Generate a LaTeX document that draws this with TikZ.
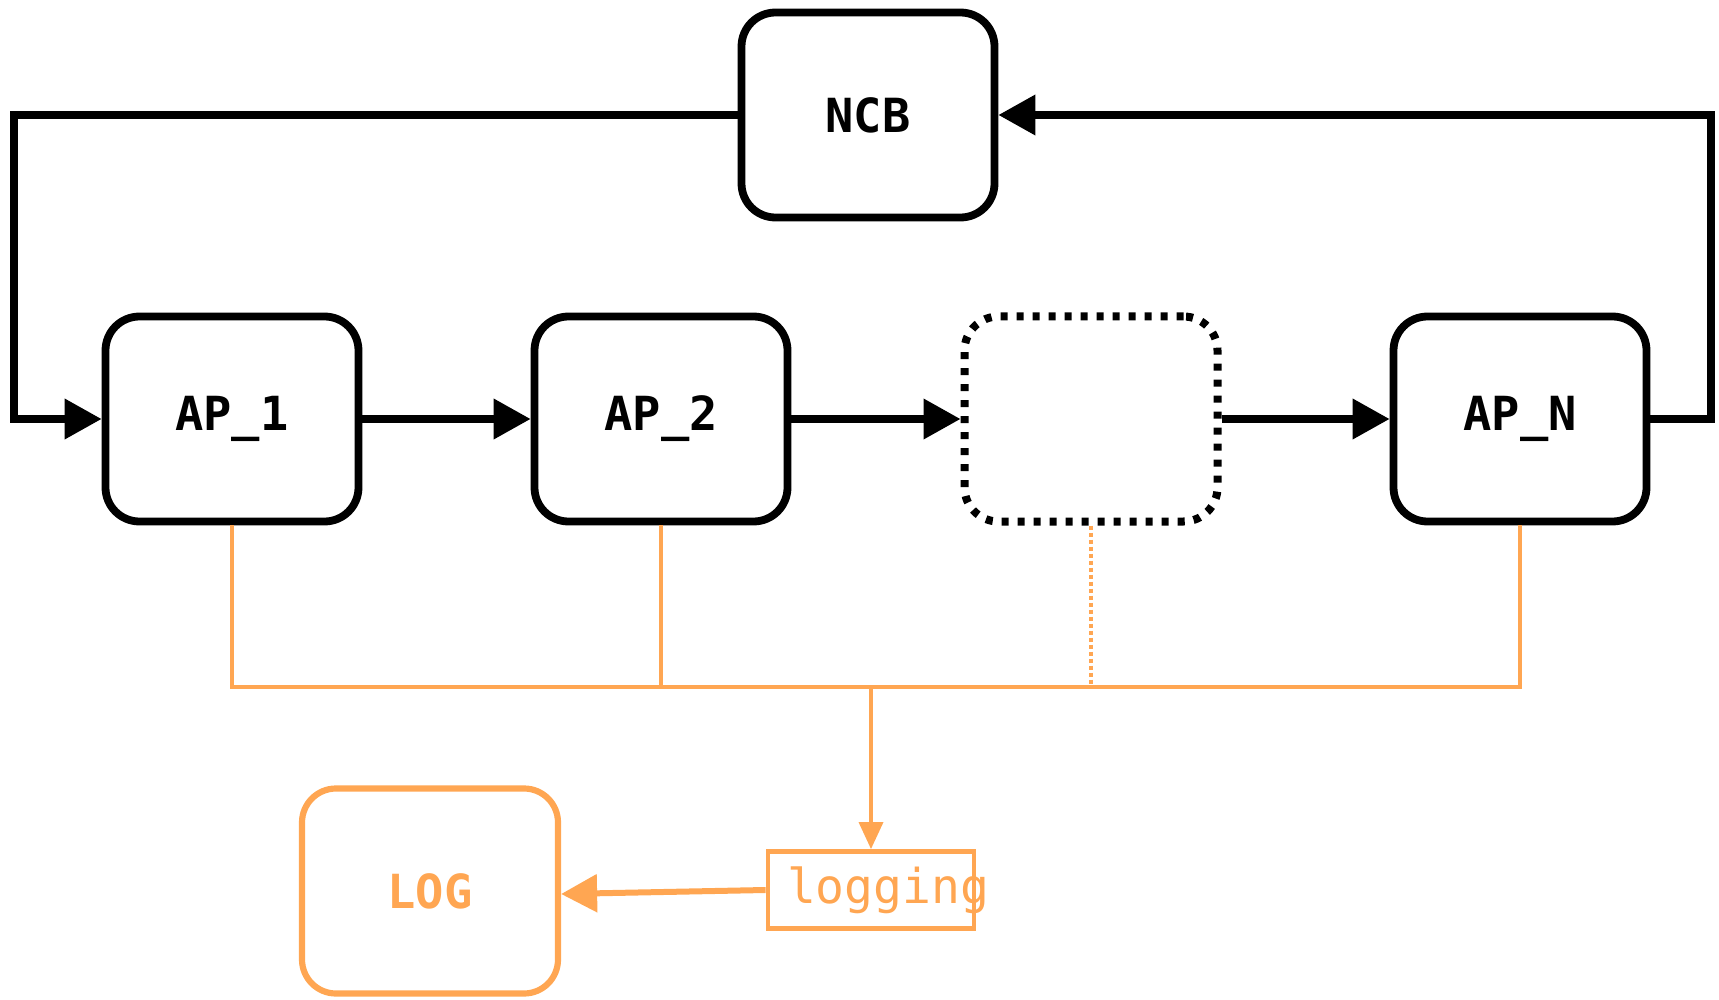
\documentclass[tikz,border=0pt]{standalone}
\usepackage{fontspec}
\setmonofont{DejaVu Sans Mono}
\usetikzlibrary{arrows.meta}
\definecolor{logorange}{RGB}{255,166,82}
\begin{document}
\begin{tikzpicture}[x=1pt,y=-1pt,
  apbox/.style={draw=black, line width=7.8pt, rounded corners=34pt,
    minimum width=253pt, minimum height=205pt, inner sep=0pt,
    font=\ttfamily\bfseries\fontsize{47}{50}\selectfont},
  ghostbox/.style={apbox, line width=8pt, dash pattern=on 7pt off 9pt},
  flow/.style={line width=7.2pt, -{Triangle[length=37pt,width=39pt]}},
  logline/.style={draw=logorange, line width=3.6pt},
  logbig/.style={draw=logorange, text=logorange, line width=6.2pt, rounded corners=34pt,
    minimum width=256pt, minimum height=205pt, inner sep=0pt,
    font=\ttfamily\bfseries\fontsize{47}{50}\selectfont},
  logsmall/.style={draw=logorange, text=logorange, line width=4.8pt,
    text width=168pt, align=left, inner xsep=19pt, inner ysep=0pt,
    minimum height=77pt, font=\ttfamily\fontsize{48}{52}\selectfont}
]
\useasboundingbox (0,0) rectangle (1719,1000);

% control block and access points
\node[apbox] (ncb) at (868,115) {NCB};
\node[apbox] (ap1) at (232,419) {AP\_1};
\node[apbox] (ap2) at (661,419) {AP\_2};
\node[ghostbox] (apx) at (1091,419) {};
\node[apbox] (apn) at (1520,419) {AP\_N};

% logging sink
\node[logbig] (log) at (430,891) {LOG};
\node[logsmall] (logging) at (871,890) {logging};

% chain of access points
\draw[flow] (ap1.east) -- (ap2.west);
\draw[flow] (ap2.east) -- (apx.west);
\draw[flow] (apx.east) -- (apn.west);

% feedback loops through NCB
\coordinate (lt) at (14,0);
\coordinate (rt) at (1711,0);
\draw[flow] (ncb.west) -- (lt |- ncb.west) |- (ap1.west);
\draw[flow] (apn.east) -- (rt |- apn.east) |- (ncb.east);

% logging bus
\coordinate (bus) at (871,687);
\draw[logline] (ap1.south) |- (bus);
\draw[logline] (ap2.south) |- (bus);
\draw[logline] (apn.south) |- (bus);
\draw[logline, dash pattern=on 4pt off 3pt] (apx.south) |- (bus);
\draw[logline, -{Triangle[length=27pt,width=24pt]}, logorange] (bus) -- (logging.north);
\draw[draw=logorange, line width=6pt, -{Triangle[length=36pt,width=37pt]}, logorange]
  (logging.west) -- ([yshift=-3pt]log.east);
\end{tikzpicture}
\end{document}
